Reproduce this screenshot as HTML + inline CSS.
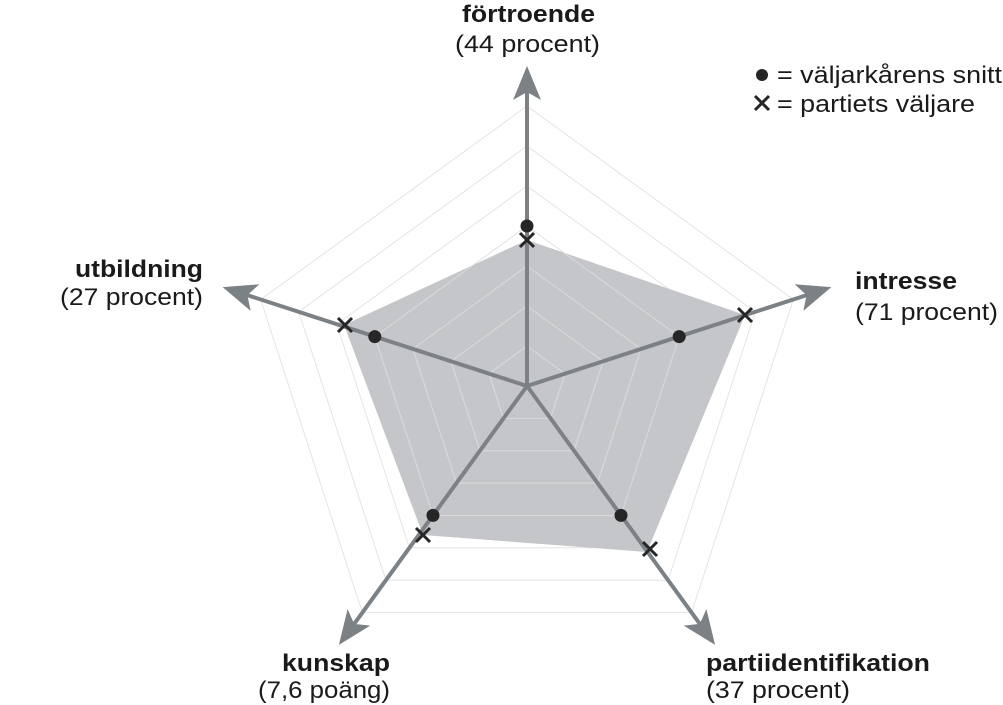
<!DOCTYPE html>
<html><head><meta charset="utf-8"><style>
body{margin:0;background:#fff}
svg{display:block}
text{font-family:"Liberation Sans",Arial,sans-serif;font-size:24px;fill:#1a1a1a}
.b{font-weight:bold}
</style></head><body>
<svg width="1003" height="705" viewBox="0 0 1003 705" xmlns="http://www.w3.org/2000/svg">
<g transform="translate(527,386)">
  <g fill="none" stroke="#e4e4e4" stroke-width="1">
    <polygon points="0,-40 38.0,-12.4 23.5,32.4 -23.5,32.4 -38.0,-12.4"/>
    <polygon points="0,-80 76.1,-24.7 47.0,64.7 -47.0,64.7 -76.1,-24.7"/>
    <polygon points="0,-120 114.1,-37.1 70.5,97.1 -70.5,97.1 -114.1,-37.1"/>
    <polygon points="0,-160 152.2,-49.4 94.0,129.4 -94.0,129.4 -152.2,-49.4"/>
    <polygon points="0,-200 190.2,-61.8 117.6,161.8 -117.6,161.8 -190.2,-61.8"/>
    <polygon points="0,-240 228.3,-74.2 141.1,194.2 -141.1,194.2 -228.3,-74.2"/>
    <polygon points="0,-280 266.3,-86.5 164.6,226.5 -164.6,226.5 -266.3,-86.5"/>
  </g>
  <polygon points="0,-146 218,-71 120,166 -104,149 -183,-61" fill="#c5c6c9"/>
  <g fill="none" stroke="#e2e3e5" stroke-width="1" opacity="0.7">
    <polygon points="0,-40 38.0,-12.4 23.5,32.4 -23.5,32.4 -38.0,-12.4"/>
    <polygon points="0,-80 76.1,-24.7 47.0,64.7 -47.0,64.7 -76.1,-24.7"/>
    <polygon points="0,-120 114.1,-37.1 70.5,97.1 -70.5,97.1 -114.1,-37.1"/>
    <polygon points="0,-160 152.2,-49.4 94.0,129.4 -94.0,129.4 -152.2,-49.4"/>
  </g>
  <g fill="#7c8185" stroke="#7c8185">
    <g transform="rotate(-90)"><line x1="0" y1="0" x2="295" y2="0" stroke-width="4"/><path d="M320,0 L286,-14 L294,0 L286,14 Z" stroke="none"/></g>
    <g transform="rotate(-18)"><line x1="0" y1="0" x2="295" y2="0" stroke-width="4"/><path d="M320,0 L286,-14 L294,0 L286,14 Z" stroke="none"/></g>
    <g transform="rotate(54)"><line x1="0" y1="0" x2="295" y2="0" stroke-width="4"/><path d="M320,0 L286,-14 L294,0 L286,14 Z" stroke="none"/></g>
    <g transform="rotate(126)"><line x1="0" y1="0" x2="295" y2="0" stroke-width="4"/><path d="M320,0 L286,-14 L294,0 L286,14 Z" stroke="none"/></g>
    <g transform="rotate(198)"><line x1="0" y1="0" x2="295" y2="0" stroke-width="4"/><path d="M320,0 L286,-14 L294,0 L286,14 Z" stroke="none"/></g>
  </g>
  <g fill="#262626">
    <circle cx="0" cy="-160" r="6.5"/>
    <circle cx="152.2" cy="-49.4" r="6.5"/>
    <circle cx="94" cy="129.4" r="6.5"/>
    <circle cx="-94" cy="129.4" r="6.5"/>
    <circle cx="-152.2" cy="-49.4" r="6.5"/>
  </g>
  <g stroke="#262626" stroke-width="3">
    <path d="M-7,-153 L7,-139 M7,-153 L-7,-139"/>
    <path d="M211,-78 L225,-64 M225,-78 L211,-64"/>
    <path d="M116,156 L130,170 M130,156 L116,170"/>
    <path d="M-111,142 L-97,156 M-97,142 L-111,156"/>
    <path d="M-189,-68 L-175,-54 M-175,-68 L-189,-54"/>
  </g>
</g>
<text x="462" y="22" class="b" textLength="133" lengthAdjust="spacingAndGlyphs">förtroende</text>
<text x="455" y="52" textLength="145" lengthAdjust="spacingAndGlyphs">(44 procent)</text>
<text x="855" y="289" class="b" textLength="102" lengthAdjust="spacingAndGlyphs">intresse</text>
<text x="855" y="320" textLength="143" lengthAdjust="spacingAndGlyphs">(71 procent)</text>
<text x="75" y="277" class="b" textLength="128" lengthAdjust="spacingAndGlyphs">utbildning</text>
<text x="60" y="305" textLength="143" lengthAdjust="spacingAndGlyphs">(27 procent)</text>
<text x="282" y="671" class="b" textLength="108" lengthAdjust="spacingAndGlyphs">kunskap</text>
<text x="258" y="698" textLength="132" lengthAdjust="spacingAndGlyphs">(7,6 poäng)</text>
<text x="706" y="671" class="b" textLength="224" lengthAdjust="spacingAndGlyphs">partiidentifikation</text>
<text x="706" y="698" textLength="144" lengthAdjust="spacingAndGlyphs">(37 procent)</text>
<circle cx="762" cy="75" r="6" fill="#262626"/>
<text x="777" y="83" textLength="225" lengthAdjust="spacingAndGlyphs">= väljarkårens snitt</text>
<path d="M755,96 L769,110 M769,96 L755,110" stroke="#262626" stroke-width="3"/>
<text x="777" y="112" textLength="198" lengthAdjust="spacingAndGlyphs">= partiets väljare</text>
</svg>
</body></html>
